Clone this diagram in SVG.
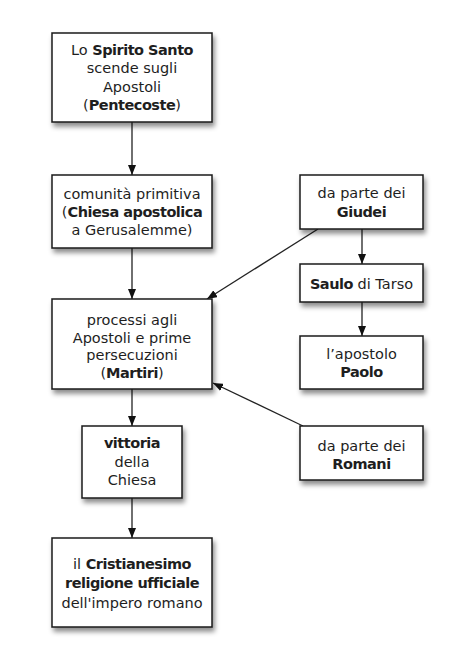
<svg xmlns="http://www.w3.org/2000/svg" width="474" height="670" viewBox="0 0 474 670">
<style>
  .box { fill: #ffffff; stroke: #1a1a1a; stroke-width: 1.5; filter: url(#shadow); }
  text { font-family: "DejaVu Sans", "Liberation Sans", sans-serif; font-size: 14.5px; fill: #1e1e1e; text-anchor: middle; }
  .b { font-weight: bold; letter-spacing: -0.5px; }
  .edge { stroke: #222222; stroke-width: 1.3; fill: none; marker-end: url(#arrow); }
</style>
<defs>
  <filter id="shadow" x="-20%" y="-20%" width="150%" height="160%">
    <feDropShadow dx="2" dy="4" stdDeviation="2.5" flood-color="#000000" flood-opacity="0.45"/>
  </filter>
  <marker id="arrow" viewBox="0 0 10 8" refX="10" refY="4" markerWidth="10" markerHeight="8" markerUnits="userSpaceOnUse" orient="auto">
    <path d="M0,0 L10,4 L0,8 Z" fill="#111111"/>
  </marker>
</defs>
<rect width="474" height="670" fill="#ffffff"/>

<g id="connectors">
  <line class="edge" x1="132" y1="122" x2="132" y2="175"/>
  <line class="edge" x1="132" y1="248" x2="132" y2="299"/>
  <line class="edge" x1="132" y1="389" x2="132" y2="426"/>
  <line class="edge" x1="132" y1="498" x2="132" y2="538"/>
  <line class="edge" x1="362" y1="229" x2="362" y2="264"/>
  <line class="edge" x1="362" y1="302" x2="362" y2="336"/>
  <line class="edge" x1="318" y1="229" x2="207" y2="299"/>
  <line class="edge" x1="303" y1="426" x2="213" y2="383"/>
</g>

<g id="n1">
  <rect class="box" x="52" y="33" width="160" height="89"/>
  <text x="132" y="55">Lo <tspan class="b">Spirito Santo</tspan></text>
  <text x="132" y="73">scende sugli</text>
  <text x="132" y="92">Apostoli</text>
  <text x="132" y="110">(<tspan class="b">Pentecoste</tspan>)</text>
</g>

<g id="n2">
  <rect class="box" x="52" y="175" width="160" height="73"/>
  <text x="132" y="199">comunità primitiva</text>
  <text x="132" y="217">(<tspan class="b">Chiesa apostolica</tspan></text>
  <text x="132" y="235">a Gerusalemme)</text>
</g>

<g id="n3">
  <rect class="box" x="52" y="299" width="160" height="90"/>
  <text x="132" y="325">processi agli</text>
  <text x="132" y="343">Apostoli e prime</text>
  <text x="132" y="360">persecuzioni</text>
  <text x="132" y="378">(<tspan class="b">Martiri</tspan>)</text>
</g>

<g id="n4">
  <rect class="box" x="82" y="426" width="100" height="72"/>
  <text x="132" y="448"><tspan class="b">vittoria</tspan></text>
  <text x="132" y="467">della</text>
  <text x="132" y="485">Chiesa</text>
</g>

<g id="n5">
  <rect class="box" x="52" y="538" width="160" height="89"/>
  <text x="132" y="569">il <tspan class="b">Cristianesimo</tspan></text>
  <text x="132" y="588"><tspan class="b">religione ufficiale</tspan></text>
  <text x="132" y="608">dell'impero romano</text>
</g>

<g id="giudei">
  <rect class="box" x="300" y="175" width="123" height="54"/>
  <text x="361.5" y="198">da parte dei</text>
  <text x="361.5" y="217"><tspan class="b">Giudei</tspan></text>
</g>

<g id="saulo">
  <rect class="box" x="300" y="264" width="123" height="38"/>
  <text x="361.5" y="289"><tspan class="b">Saulo</tspan> di Tarso</text>
</g>

<g id="paolo">
  <rect class="box" x="300" y="336" width="123" height="53"/>
  <text x="361.5" y="359">l’apostolo</text>
  <text x="361.5" y="377"><tspan class="b">Paolo</tspan></text>
</g>

<g id="romani">
  <rect class="box" x="300" y="426" width="123" height="54"/>
  <text x="361.5" y="451">da parte dei</text>
  <text x="361.5" y="469"><tspan class="b">Romani</tspan></text>
</g>
</svg>
